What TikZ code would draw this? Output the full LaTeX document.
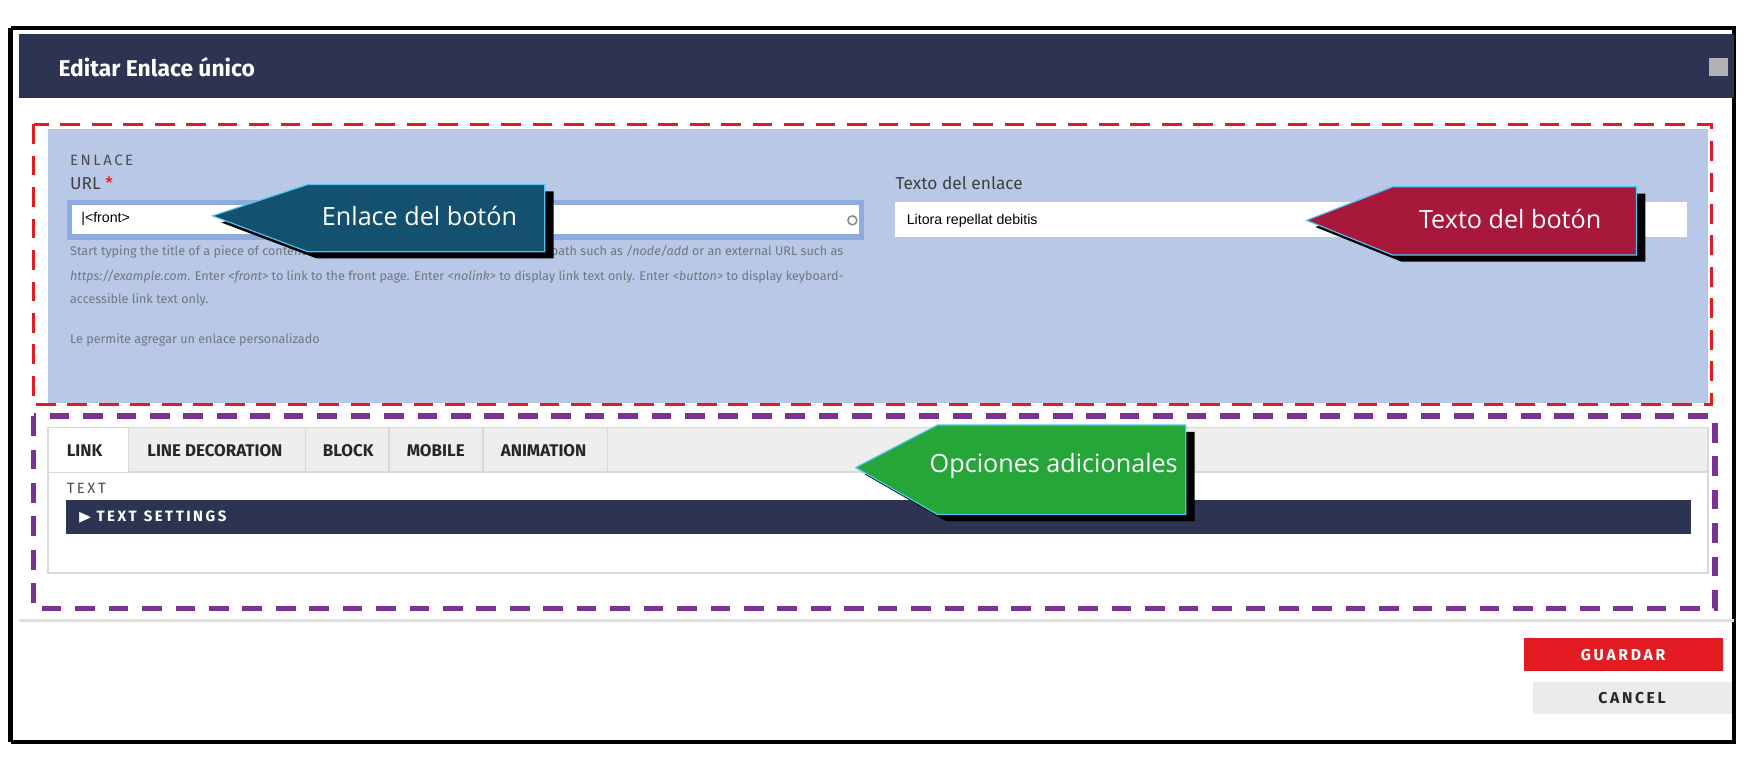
\documentclass[tikz,border=0pt]{standalone}
\usepackage{fontspec}
\setmainfont{Liberation Sans}
\newfontfamily\calloutfont{Open Sans}
\newfontfamily\uifont{Fira Sans}
\usepackage{amssymb}
\usetikzlibrary{positioning, calc}
\definecolor{navy}{HTML}{2D3451}
\definecolor{panelblue}{HTML}{B8C8E6}
\definecolor{inputblue}{HTML}{8FAADC}
\definecolor{tealbox}{HTML}{14506F}
\definecolor{crimson}{HTML}{A8183A}
\definecolor{greenbox}{HTML}{26A639}
\definecolor{dashred}{HTML}{E31B23}
\definecolor{dashpurple}{HTML}{7B3391}
\definecolor{tabgrey}{HTML}{EEEEEC}
\definecolor{helpgrey}{HTML}{6F7680}
\tikzset{
    small text/.style={font=\uifont\fontsize{3.2}{4}\selectfont, text=helpgrey, anchor=west, inner sep=0pt},
    tab/.style={font=\uifont\bfseries\fontsize{4.3}{5}\selectfont, text=black!85, anchor=west, inner sep=0pt},
    callout text/.style={font=\calloutfont\fontsize{6.4}{8}\selectfont, text=white, inner sep=0pt},
}
\newcommand{\Callout}[7]{% tip x, tip y, left x, right x, top y, bottom y, colour
    \fill[black] ($(#1,#2)+(8,6)$) -- ($(#3,#5)+(8,6)$) -- ($(#4,#5)+(8,6)$) -- ($(#4,#6)+(8,6)$) -- ($(#3,#6)+(8,6)$) -- cycle;
    \filldraw[fill=#7, draw=cyan!70!white, line width=0.3pt] (#1,#2) -- (#3,#5) -- (#4,#5) -- (#4,#6) -- (#3,#6) -- cycle;
}
\begin{document}
\begin{tikzpicture}[x=0.01cm, y=-0.01cm]
    \useasboundingbox (0,0) rectangle (1568,692);
    \fill[white] (0,0) rectangle (1568,692);

    % dialog frame and header
    \draw[black, line width=1pt] (10,25) -- (1550,25) -- (1550,663) -- (10,663);
    \fill[black] (7,25) rectangle (12,663);
    \fill[navy] (17,30) rectangle (1550,88);
    \node[font=\uifont\bfseries\fontsize{5.8}{7}\selectfont, text=white, anchor=west] (title) at (40,60) {Editar Enlace único};
    \fill[black!30] (1528,52) rectangle (1545,68);

    % link fields
    \draw[dashred, dashed, line width=0.8pt, dash pattern=on 5pt off 3pt] (30,111) rectangle (1530,362);
    \fill[panelblue] (43,115) rectangle (1527,360);
    \node[small text, text=black!70, font=\uifont\fontsize{3.8}{5}\selectfont] (enlace) at (62,143) {E\,N\,L\,A\,C\,E};
    \node[small text, text=black!75, font=\uifont\fontsize{4.4}{5}\selectfont] (url) at (62,164) {URL \textcolor{red}{*}};
    \filldraw[fill=white, draw=inputblue, line width=1.4pt] (62,181) rectangle (770,212);
    \node[small text, text=black, font=\fontsize{3.6}{4}\selectfont] (front) at (72,196) {|<front>};
    \draw[black!45, line width=0.4pt] (762,197) circle (4);
    \node[small text] (help1) at (62,225) {Start typing the title of a piece of content to select it. You can also enter an internal path such as \textit{/node/add} or an external URL such as};
    \node[small text] (help2) at (62,247) {\textit{https://example.com}. Enter \textit{<front>} to link to the front page. Enter \textit{<nolink>} to display link text only. Enter \textit{<button>} to display keyboard-};
    \node[small text] (help3) at (62,268) {accessible link text only.};
    \node[small text] (help4) at (62,304) {Le permite agregar un enlace personalizado};
    \node[small text, text=black!75, font=\uifont\fontsize{4.4}{5}\selectfont] (texto) at (800,164) {Texto del enlace};
    \fill[white] (800,181) rectangle (1508,212);
    \node[small text, text=black, font=\fontsize{3.6}{4}\selectfont] (litora) at (810,197) {Litora repellat debitis};

    % tabs
    \draw[dashpurple, line width=1.4pt, dash pattern=on 5pt off 3.5pt] (30,372) rectangle (1533,544);
    \filldraw[fill=white, draw=black!15] (43,382) rectangle (1527,512);
    \filldraw[fill=tabgrey, draw=black!15] (43,382) rectangle (1527,422);
    \fill[white] (44,383) rectangle (115,422);
    \foreach \x in {115,273,348,432,543} {
        \draw[black!15] (\x,382) -- (\x,422);
    }
    \node[tab] (link) at (59,403) {LINK};
    \node[tab] (linedeco) at (131,403) {LINE DECORATION};
    \node[tab] (block) at (288,403) {BLOCK};
    \node[tab] (mobile) at (363,403) {MOBILE};
    \node[tab] (anim) at (447,403) {ANIMATION};
    \node[small text, text=black!70, font=\uifont\fontsize{3.8}{5}\selectfont] (textlbl) at (59,437) {T\,E\,X\,T};
    \fill[navy] (59,447) rectangle (1512,477);
    \node[tab, text=white, font=\uifont\bfseries\fontsize{3.8}{5}\selectfont] (settings) at (68,462) {$\blacktriangleright$\ T\,E\,X\,T\ \ S\,E\,T\,T\,I\,N\,G\,S};

    % footer buttons
    \draw[black!12, line width=0.8pt] (17,555) -- (1550,555);
    \fill[dashred] (1362,570) rectangle (1540,600);
    \node[tab, text=white, anchor=center, font=\uifont\bfseries\fontsize{4}{5}\selectfont] (guardar) at (1451,586) {G\,U\,A\,R\,D\,A\,R};
    \fill[black!8] (1370,610) rectangle (1548,638);
    \node[tab, anchor=center, font=\uifont\bfseries\fontsize{4}{5}\selectfont] (cancel) at (1459,624) {C\,A\,N\,C\,E\,L};

    % callouts
    \Callout{190}{193}{275}{487}{165}{225}{tealbox}
    \node[callout text] (c1) at (375,193) {Enlace del botón};
    \Callout{1168}{197}{1245}{1463}{167}{228}{crimson}
    \node[callout text] (c2) at (1350,196) {Texto del botón};
    \Callout{765}{418}{838}{1060}{380}{460}{greenbox}
    \node[callout text] (c3) at (942,417) {Opciones adicionales};
\end{tikzpicture}
\end{document}
